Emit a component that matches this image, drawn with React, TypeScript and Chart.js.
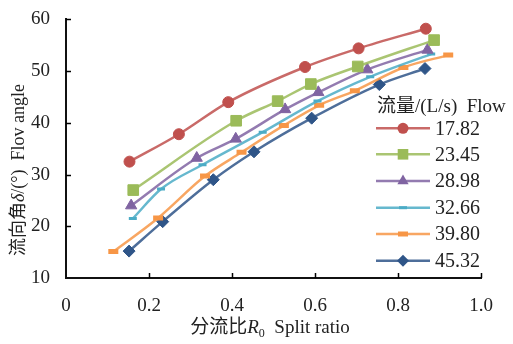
import React, { useEffect, useRef } from "react";
import { Chart, registerables } from "chart.js";

Chart.register(...registerables);

const flows = ["17.82", "23.45", "28.98", "32.66", "39.80", "45.32"];

const xs1782 = [0.153, 0.272, 0.391, 0.576, 0.705, 0.867];
const ys1782 = [32.5, 37.8, 44.0, 50.8, 54.4, 58.2];

const xs2345 = [0.162, 0.410, 0.510, 0.590, 0.703, 0.887];
const ys2345 = [27.0, 40.4, 44.2, 47.5, 50.9, 56.0];

const xs2898 = [0.157, 0.315, 0.409, 0.528, 0.608, 0.726, 0.871];
const ys2898 = [24.0, 33.2, 36.9, 42.6, 45.9, 50.3, 54.1];

const xs3266 = [0.161, 0.229, 0.329, 0.474, 0.606, 0.733, 0.880];
const ys3266 = [21.5, 27.2, 31.9, 38.2, 44.2, 48.9, 53.3];

const xs3980 = [0.114, 0.222, 0.335, 0.423, 0.525, 0.610, 0.696, 0.813, 0.921];
const ys3980 = [15.1, 21.6, 29.7, 34.3, 39.5, 43.4, 46.2, 50.7, 53.1];

const xs4532 = [0.152, 0.233, 0.355, 0.453, 0.592, 0.755, 0.865];
const ys4532 = [15.2, 20.9, 29.0, 34.4, 40.9, 47.4, 50.5];

const xTicks = [0, 0.2, 0.4, 0.6, 0.8, 1.0];
const yTicks = [10, 20, 30, 40, 50, 60];

const colors = ["#C0504D", "#9BBB59", "#8064A2", "#4BACC6", "#F79646", "#2F5588"];
const styles = ["circle", "rect", "triangle", "line", "line", "rectRot"];
const radii = [5.5, 7.5, 6.5, 4, 5, 6];
const pbw = [1, 1, 1, 3, 5, 1];

const SERIF = '"Liberation Serif", "DejaVu Serif", serif';
const CJK = '"Noto Sans CJK SC", sans-serif';

const pts = (xs: number[], ys: number[]) => xs.map((x, i) => ({ x, y: ys[i] }));

function drawMarker(ctx: CanvasRenderingContext2D, style: string, x: number, y: number, r: number, color: string, bw: number) {
  ctx.save();
  ctx.fillStyle = color;
  ctx.strokeStyle = color;
  ctx.lineWidth = bw;
  ctx.beginPath();
  if (style === "circle") {
    ctx.arc(x, y, r, 0, Math.PI * 2);
    ctx.fill();
  } else if (style === "rect") {
    const s = Math.SQRT1_2 * r;
    ctx.rect(x - s, y - s, 2 * s, 2 * s);
    ctx.fill();
  } else if (style === "triangle") {
    const a = r;
    ctx.moveTo(x, y - a);
    ctx.lineTo(x + a * 0.866, y + a * 0.5);
    ctx.lineTo(x - a * 0.866, y + a * 0.5);
    ctx.closePath();
    ctx.fill();
  } else if (style === "line") {
    ctx.moveTo(x - r, y);
    ctx.lineTo(x + r, y);
    ctx.stroke();
  } else if (style === "rectRot") {
    ctx.moveTo(x, y - r);
    ctx.lineTo(x + r, y);
    ctx.lineTo(x, y + r);
    ctx.lineTo(x - r, y);
    ctx.closePath();
    ctx.fill();
  }
  ctx.restore();
}

const decorPlugin = {
  id: "decor",
  afterDraw(chart: any) {
    const ctx: CanvasRenderingContext2D = chart.ctx;
    const xs = chart.scales.x;
    const ys = chart.scales.y;
    const ca = chart.chartArea;
    ctx.save();
    // inward ticks
    ctx.strokeStyle = "#000";
    ctx.lineWidth = 1.5;
    xTicks.forEach((t) => {
      if (t === 0) return;
      const px = Math.round(xs.getPixelForValue(t)) + 0.5;
      ctx.beginPath();
      ctx.moveTo(px, ca.bottom);
      ctx.lineTo(px, ca.bottom - 5);
      ctx.stroke();
    });
    yTicks.forEach((t) => {
      if (t === 10) return;
      const py = Math.round(ys.getPixelForValue(t)) + 0.5;
      ctx.beginPath();
      ctx.moveTo(ca.left, py);
      ctx.lineTo(ca.left + 5, py);
      ctx.stroke();
    });

    // x title
    ctx.fillStyle = "#222";
    ctx.textBaseline = "alphabetic";
    const parts: [string, string, number][] = [
      ["分流比", `19px ${CJK}`, 0],
      ["R", `italic 19px ${SERIF}`, 0],
      ["0", `12px ${SERIF}`, 4],
      ["  Split ratio", `19px ${SERIF}`, 0],
    ];
    let tw = 0;
    parts.forEach(([t, f]) => { ctx.font = f; tw += ctx.measureText(t).width; });
    let cx = 270 - tw / 2;
    parts.forEach(([t, f, dy]) => {
      ctx.font = f;
      ctx.fillText(t, cx, 333 + dy);
      cx += ctx.measureText(t).width;
    });

    // y title
    ctx.save();
    ctx.translate(24, 170);
    ctx.rotate(-Math.PI / 2);
    const yparts: [string, string][] = [
      ["流向角", `18px ${CJK}`],
      ["δ", `italic 18px ${SERIF}`],
      ["/(°)  Flov angle", `18px ${SERIF}`],
    ];
    let yw = 0;
    yparts.forEach(([t, f]) => { ctx.font = f; yw += ctx.measureText(t).width; });
    let yx = -yw / 2;
    yparts.forEach(([t, f]) => {
      ctx.font = f;
      ctx.fillText(t, yx, 0);
      yx += ctx.measureText(t).width;
    });
    ctx.restore();

    // legend
    const lparts: [string, string][] = [
      ["流量", `19px ${CJK}`],
      ["/(L/s)  Flow", `19px ${SERIF}`],
    ];
    let lx = 377;
    lparts.forEach(([t, f]) => {
      ctx.font = f;
      ctx.fillText(t, lx, 112);
      lx += ctx.measureText(t).width;
    });
    const rowY = [128.3, 154.3, 181, 207.7, 234, 260.7];
    flows.forEach((f, i) => {
      const y = rowY[i];
      ctx.strokeStyle = colors[i];
      ctx.globalAlpha = 0.85;
      ctx.lineWidth = 2.5;
      ctx.beginPath();
      ctx.moveTo(376, y);
      ctx.lineTo(430, y);
      ctx.stroke();
      ctx.globalAlpha = 1;
      drawMarker(ctx, styles[i], 403, y, radii[i], colors[i], pbw[i]);
      ctx.fillStyle = "#222";
      ctx.font = `20px ${SERIF}`;
      ctx.textBaseline = "middle";
      ctx.fillText(f, 435, y + 1);
      ctx.textBaseline = "alphabetic";
    });
    ctx.restore();
  },
};

export default function App() {
  const ref = useRef<HTMLCanvasElement | null>(null);
  useEffect(() => {
    document.body.style.margin = "0";
    const all = [
      pts(xs1782, ys1782),
      pts(xs2345, ys2345),
      pts(xs2898, ys2898),
      pts(xs3266, ys3266),
      pts(xs3980, ys3980),
      pts(xs4532, ys4532),
    ];
    const chart = new Chart(ref.current!, {
      type: "line",
      data: {
        datasets: all.map((d, i) => ({
          label: flows[i],
          data: d,
          borderColor: colors[i] + "D9",
          backgroundColor: colors[i],
          borderWidth: 2.5,
          pointStyle: styles[i] as any,
          pointRadius: radii[i],
          pointBorderWidth: pbw[i],
          pointBackgroundColor: colors[i],
          pointBorderColor: colors[i],
          cubicInterpolationMode: "monotone" as const,
          fill: false,
        })),
      },
      options: {
        responsive: false,
        animation: false,
        devicePixelRatio: 1,
        layout: { padding: { left: 0, right: 32, top: 13, bottom: 0 } },
        plugins: { legend: { display: false }, tooltip: { enabled: false } },
        scales: {
          x: {
            type: "linear",
            min: 0,
            max: 1,
            afterFit: (s: any) => { s.height = 66; },
            afterBuildTicks: (s: any) => { s.ticks = xTicks.map((v) => ({ value: v })); },
            grid: { display: false },
            border: { display: true, color: "#111", width: 2 },
            ticks: {
              padding: 9,
              color: "#222",
              font: { family: SERIF, size: 19 },
              callback: (v: any) => (v === 0 ? "0" : Number(v).toFixed(1)),
            },
          },
          y: {
            type: "linear",
            min: 10,
            max: 60,
            afterFit: (s: any) => { s.width = 66; },
            afterBuildTicks: (s: any) => { s.ticks = yTicks.map((v) => ({ value: v })); },
            grid: { display: false },
            border: { display: true, color: "#111", width: 2 },
            ticks: {
              padding: 8,
              color: "#222",
              font: { family: SERIF, size: 19 },
              callback: (v: any) => String(v),
            },
          },
        },
      },
      plugins: [decorPlugin],
    });
    return () => chart.destroy();
  }, []);
  return (
    <div style={{ position: "absolute", left: 0, top: 0, width: 513, height: 344 }}>
      <canvas ref={ref} width={513} height={344} />
    </div>
  );
}
